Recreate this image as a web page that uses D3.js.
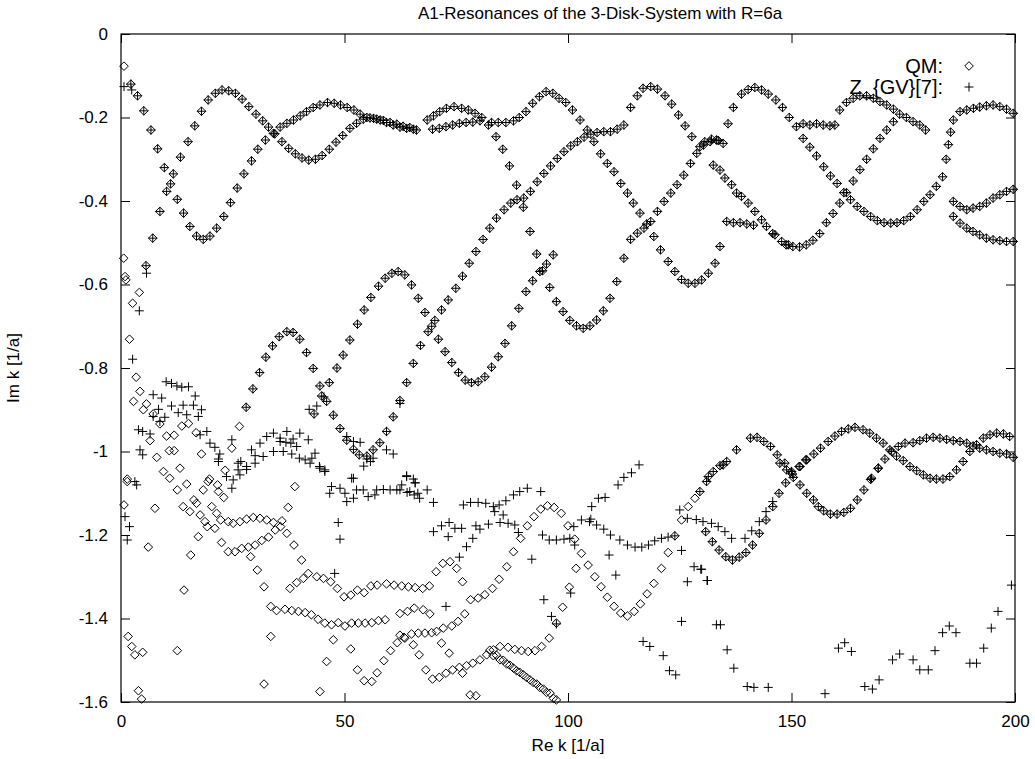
<!DOCTYPE html>
<html>
<head>
<meta charset="utf-8">
<script src="https://cdn.jsdelivr.net/npm/d3@7"></script>
<style>
  body { margin: 0; background: #fff; }
  text { font-family: "Liberation Sans", Arial, sans-serif; fill: #000; }
</style>
</head>
<body>
<svg id="chart" width="1035" height="759"></svg>
<script>
const title = "A1-Resonances of the 3-Disk-System with R=6a";
const xLabel = "Re k [1/a]";
const yLabel = "Im k [1/a]";
const xTicks = [0, 50, 100, 150, 200];
const yTicks = [0, -0.2, -0.4, -0.6, -0.8, -1, -1.2, -1.4, -1.6];
const legendNames = ["QM:", "Z_{GV}[7]:"];

// branches where QM and GV resonances coincide
const upperA = [[2.2,-0.12],[3.7,-0.148],[5.1,-0.184],[6.7,-0.23],[8.2,-0.275],[9.7,-0.32],[11.1,-0.359],[12.6,-0.396],[14.0,-0.429],[15.4,-0.461],[16.9,-0.484],[18.4,-0.492],[19.9,-0.484],[21.4,-0.465],[23.0,-0.437],[24.5,-0.404],[26.0,-0.369],[27.5,-0.335],[29.2,-0.304],[30.6,-0.276],[32.3,-0.254],[34.1,-0.238],[35.6,-0.223],[37.1,-0.214],[38.6,-0.206],[40.1,-0.196],[41.5,-0.186],[43.0,-0.176],[44.5,-0.17],[46.2,-0.164],[47.7,-0.166],[49.1,-0.17],[50.6,-0.176],[52.1,-0.182],[53.5,-0.192],[55.0,-0.2],[56.5,-0.202],[58.0,-0.206],[59.4,-0.212],[60.9,-0.218],[62.4,-0.223],[63.9,-0.226],[65.4,-0.228]];
const upperB = [[5.6,-0.555],[7.1,-0.489],[8.7,-0.425],[10.2,-0.377],[11.7,-0.335],[13.3,-0.295],[15.0,-0.258],[16.5,-0.22],[18.0,-0.185],[19.5,-0.158],[21.1,-0.142],[22.6,-0.134],[24.1,-0.136],[25.6,-0.142],[27.1,-0.156],[28.6,-0.174],[30.2,-0.192],[31.7,-0.208],[33.0,-0.223],[34.4,-0.239],[36.0,-0.258],[37.5,-0.274],[39.0,-0.287],[40.5,-0.297],[42.0,-0.302],[43.5,-0.3],[45.0,-0.291],[46.6,-0.276],[48.1,-0.259],[49.6,-0.243],[51.2,-0.226],[52.7,-0.214],[54.2,-0.204],[55.7,-0.201],[57.2,-0.204],[58.7,-0.207],[60.2,-0.212],[61.7,-0.216],[63.1,-0.221],[64.6,-0.224],[66.1,-0.23]];
const upperC = [[68.5,-0.206],[69.9,-0.196],[71.3,-0.186],[72.8,-0.178],[74.5,-0.174],[76.2,-0.178],[77.7,-0.182],[79.2,-0.19],[80.7,-0.2],[82.2,-0.218],[83.9,-0.246],[85.4,-0.276],[86.9,-0.316],[88.5,-0.362],[90.0,-0.415],[91.5,-0.473],[93.0,-0.527],[94.3,-0.567],[95.9,-0.607],[97.4,-0.641],[98.9,-0.665],[100.4,-0.686],[101.9,-0.699],[103.4,-0.705],[104.9,-0.699],[106.4,-0.685],[107.9,-0.663],[109.4,-0.633],[110.9,-0.593],[112.5,-0.537]];
const upperD = [[69.7,-0.228],[71.2,-0.226],[72.7,-0.222],[74.2,-0.218],[75.7,-0.214],[77.2,-0.212],[78.7,-0.211],[80.3,-0.208],[82.9,-0.212],[84.4,-0.212],[86.1,-0.212],[87.8,-0.208],[89.1,-0.2],[90.6,-0.186],[92.1,-0.166],[93.6,-0.15],[95.1,-0.138],[96.6,-0.142],[98.0,-0.154],[99.5,-0.164],[101.0,-0.182],[102.7,-0.206],[104.3,-0.23],[105.8,-0.258],[107.3,-0.287],[108.8,-0.31],[110.3,-0.33],[111.8,-0.358],[113.3,-0.381],[114.6,-0.405],[116.1,-0.429],[117.6,-0.455],[119.2,-0.485],[120.7,-0.517],[122.4,-0.545],[123.9,-0.569],[125.4,-0.588],[126.9,-0.597],[128.4,-0.597],[129.9,-0.589],[131.4,-0.573],[132.9,-0.549],[134.0,-0.509]];
const upperE = [[76.4,-0.58],[77.9,-0.549],[79.4,-0.521],[81.0,-0.492],[82.5,-0.465],[84.0,-0.441],[85.7,-0.421],[87.2,-0.405],[88.6,-0.397],[90.1,-0.393],[91.6,-0.377],[93.1,-0.354],[94.6,-0.334],[96.1,-0.316],[97.6,-0.298],[99.1,-0.282],[100.6,-0.268],[102.1,-0.258],[103.6,-0.247],[105.1,-0.24],[106.5,-0.236],[108.0,-0.234],[109.5,-0.234],[111.0,-0.228],[112.5,-0.218],[114.0,-0.176],[115.5,-0.148],[116.8,-0.13],[118.5,-0.126],[120.0,-0.132],[121.7,-0.148],[123.2,-0.168],[124.7,-0.194],[126.2,-0.22],[127.7,-0.246],[129.5,-0.27],[130.6,-0.258],[132.1,-0.252],[133.6,-0.255],[134.7,-0.262]];
const upperJ = [[114.0,-0.492],[115.5,-0.477],[117.0,-0.465],[118.5,-0.449],[120.0,-0.425],[121.5,-0.401],[123.0,-0.381],[124.4,-0.361],[125.9,-0.338],[127.4,-0.31],[128.8,-0.286],[130.3,-0.266],[131.8,-0.258],[133.2,-0.254]];
const upperM = [[132.5,-0.314],[134.0,-0.326],[135.1,-0.345],[136.6,-0.361],[137.7,-0.381],[138.8,-0.389],[140.3,-0.405],[141.8,-0.425],[143.3,-0.445],[146.3,-0.481],[147.8,-0.497],[149.3,-0.505]];
const upperF = [[135.8,-0.215],[137.0,-0.176],[138.8,-0.144],[140.3,-0.133],[141.8,-0.128],[143.3,-0.134],[144.8,-0.144],[146.5,-0.158],[148.0,-0.176],[149.5,-0.2],[151.1,-0.222],[152.6,-0.215],[154.1,-0.218],[155.6,-0.215],[157.1,-0.218],[158.6,-0.22],[159.7,-0.218]];
const upperG = [[152.6,-0.25],[154.1,-0.271],[155.6,-0.292],[157.2,-0.318],[158.7,-0.34],[160.2,-0.358],[161.7,-0.38],[163.2,-0.397],[164.7,-0.413],[166.2,-0.425],[167.7,-0.437],[169.2,-0.447],[170.7,-0.452],[172.2,-0.453],[173.6,-0.452],[175.1,-0.447],[176.6,-0.437],[178.1,-0.421],[179.6,-0.401],[181.0,-0.385],[182.4,-0.365],[183.8,-0.342],[184.6,-0.3],[185.1,-0.265],[185.6,-0.235]];
const upperH = [[135.5,-0.449],[137.0,-0.452],[138.5,-0.452],[140.0,-0.455],[141.5,-0.458],[144.4,-0.461],[145.8,-0.478],[148.8,-0.505],[150.3,-0.509],[151.8,-0.51],[153.3,-0.505],[154.8,-0.494],[156.3,-0.478],[157.8,-0.452],[159.3,-0.43],[160.8,-0.405],[162.3,-0.38],[163.8,-0.352],[165.3,-0.325],[166.8,-0.3],[168.3,-0.275],[169.8,-0.25],[171.3,-0.23],[172.8,-0.21]];
const upperN = [[160.8,-0.182],[162.3,-0.164],[163.8,-0.154],[165.3,-0.148],[166.8,-0.148],[168.3,-0.154],[169.8,-0.162],[171.3,-0.17],[172.8,-0.18],[174.2,-0.192],[175.7,-0.2],[177.2,-0.21],[178.7,-0.218],[180.0,-0.23]];
const upperI = [[186.2,-0.206],[187.7,-0.186],[189.2,-0.182],[190.7,-0.178],[192.1,-0.175],[193.6,-0.172],[195.1,-0.17],[196.6,-0.174],[198.1,-0.18],[199.6,-0.19]];
const upperK = [[186.2,-0.401],[187.7,-0.413],[189.2,-0.421],[190.6,-0.417],[192.1,-0.413],[193.6,-0.405],[195.1,-0.393],[196.6,-0.385],[198.1,-0.377],[199.6,-0.372]];
const upperL = [[186.2,-0.437],[187.7,-0.453],[189.2,-0.465],[190.6,-0.473],[192.1,-0.481],[193.6,-0.489],[195.1,-0.493],[196.6,-0.495],[198.1,-0.497],[199.6,-0.497]];
const peakL = [[28.0,-0.894],[29.5,-0.85],[31.0,-0.811],[32.4,-0.774],[33.9,-0.747],[35.4,-0.725],[37.1,-0.713],[38.5,-0.715],[40.0,-0.731],[41.5,-0.763],[43.0,-0.801],[44.5,-0.843],[46.0,-0.88],[47.5,-0.913],[49.0,-0.945],[50.5,-0.973],[52.0,-0.995],[53.3,-1.008],[55.0,-1.011],[56.4,-0.996],[57.9,-0.979],[59.4,-0.952],[60.9,-0.917],[62.4,-0.878],[63.9,-0.835],[65.4,-0.789],[67.0,-0.746],[68.7,-0.713],[70.2,-0.686],[71.7,-0.661],[73.2,-0.637],[74.9,-0.609]];
const peakM = [[43.2,-0.91],[44.9,-0.867],[46.6,-0.835],[48.3,-0.8],[49.7,-0.769],[51.2,-0.733],[52.9,-0.695],[54.4,-0.661],[55.9,-0.631],[57.6,-0.604],[59.1,-0.585],[60.6,-0.573],[62.0,-0.569],[63.5,-0.577],[65.0,-0.601],[66.5,-0.633],[68.0,-0.667],[69.5,-0.7],[71.0,-0.731],[72.5,-0.761],[74.0,-0.787],[75.5,-0.811],[77.0,-0.829],[78.4,-0.835],[79.9,-0.833],[81.4,-0.821],[82.9,-0.798],[84.4,-0.773],[85.9,-0.741],[87.4,-0.699],[89.0,-0.657],[90.6,-0.617],[92.1,-0.591],[93.7,-0.569],[95.2,-0.551],[96.7,-0.529]];
const lowRight1 = [[131.4,-1.06],[134.7,-1.032],[137.7,-0.996],[140.8,-0.968],[142.3,-0.966],[143.8,-0.976],[145.3,-0.988],[146.8,-1.008],[148.5,-1.028],[150.0,-1.048],[151.9,-1.036],[153.4,-1.02],[155.0,-1.006],[156.5,-0.992],[158.2,-0.976],[159.7,-0.963],[161.2,-0.952],[162.7,-0.946],[164.2,-0.942],[166.0,-0.948],[167.5,-0.956],[169.0,-0.968],[170.5,-0.98],[172.0,-0.996],[173.5,-1.011],[175.0,-1.022],[176.5,-1.036],[178.0,-1.046],[179.5,-1.056],[181.0,-1.064],[182.4,-1.066],[183.9,-1.066],[185.4,-1.06],[186.9,-1.044],[188.4,-1.024],[189.9,-1.0],[191.4,-0.984],[192.9,-0.968],[194.4,-0.96],[195.9,-0.956],[197.4,-0.958],[198.8,-0.964]];
const lowRight2 = [[167.9,-1.064],[169.4,-1.04],[170.9,-1.018],[172.4,-1.0],[173.9,-0.988],[175.4,-0.98],[177.2,-0.979],[178.7,-0.974],[180.2,-0.968],[181.7,-0.966],[183.2,-0.968],[184.7,-0.971],[186.2,-0.974],[187.7,-0.976],[189.2,-0.98],[190.6,-0.987],[192.1,-0.992],[193.6,-0.996],[195.1,-1.0],[196.6,-1.004],[198.1,-1.006],[199.6,-1.014]];
const lowRight3 = [[130.8,-1.192],[132.3,-1.216],[133.8,-1.236],[135.3,-1.252],[136.8,-1.26],[138.3,-1.253],[139.8,-1.242],[141.3,-1.224],[142.8,-1.196],[144.3,-1.164],[145.8,-1.132],[147.2,-1.1],[148.7,-1.075],[150.2,-1.054],[151.7,-1.036],[153.2,-1.02]];
const lowRight4 = [[147.4,-1.028],[148.9,-1.044],[150.4,-1.062],[151.9,-1.08],[153.4,-1.1],[154.9,-1.116],[156.0,-1.132],[157.2,-1.142],[158.7,-1.15],[160.2,-1.15],[161.7,-1.146],[163.2,-1.136],[164.7,-1.116],[166.2,-1.092],[167.7,-1.067],[169.4,-1.04]];
const lowRight5 = [[129.5,-1.096],[131.0,-1.072],[132.5,-1.048],[134.0,-1.034],[135.5,-1.024]];

// diamonds without a matching cross
const qmOnly = [[0.67,-0.077],[0.6,-0.537],[0.9,-0.581],[1.1,-0.589],[4.1,-0.619],[2.6,-0.645],[1.9,-0.731],[3.4,-0.822],[4.25,-0.856],[2.8,-0.88],[5.0,-0.9],[5.7,-0.886],[7.2,-0.91],[8.7,-0.934],[6.5,-0.974],[8.0,-1.014],[10.2,-0.963],[11.9,-0.961],[13.6,-0.939],[15.1,-0.933],[16.8,-0.955],[10.8,-0.998],[11.9,-0.998],[18.0,-1.006],[13.2,-1.04],[9.5,-1.048],[10.9,-1.064],[1.4,-1.066],[19.8,-1.066],[23.3,-1.045],[24.8,-0.992],[26.5,-0.94],
  [1.4,-1.072],[0.67,-1.128],[7.6,-1.136],[6.1,-1.229],[12.6,-1.092],[14.7,-1.078],[13.9,-1.132],[15.4,-1.144],[16.3,-1.116],[16.9,-1.124],[17.7,-1.152],[18.8,-1.168],[19.3,-1.18],[21.0,-1.184],[20.3,-1.132],[21.4,-1.148],[18.4,-1.092],[19.5,-1.072],[21.6,-1.08],[21.8,-1.096],[23.0,-1.11],[17.3,-1.204],[15.6,-1.248],[14.1,-1.332],
  [22.3,-1.164],[24.0,-1.168],[25.1,-1.172],[26.6,-1.168],[28.1,-1.162],[29.6,-1.158],[31.1,-1.16],[32.6,-1.164],[34.1,-1.17],[36.0,-1.166],
  [22.5,-1.218],[24.0,-1.24],[25.5,-1.24],[27.0,-1.232],[28.5,-1.229],[30.0,-1.224],[31.5,-1.213],[33.0,-1.205],[34.5,-1.188],[35.7,-1.18],[37.1,-1.196],
  [29.0,-1.252],[30.5,-1.284],[32.0,-1.324],[33.5,-1.371],[34.8,-1.381],[37.4,-1.134],[38.9,-1.084],[38.7,-1.224],[40.4,-1.26],
  [36.7,-1.378],[38.2,-1.381],[39.7,-1.383],[41.2,-1.386],[42.6,-1.391],[44.1,-1.402],[45.6,-1.411],[47.1,-1.415],[48.6,-1.41],[50.1,-1.418],[51.6,-1.411],[53.1,-1.411],[54.6,-1.411],[56.1,-1.41],[57.6,-1.405],[59.1,-1.403],
  [37.8,-1.328],[39.3,-1.314],[40.8,-1.304],[41.9,-1.292],[43.8,-1.3],[45.3,-1.304],[46.9,-1.312],[48.4,-1.328],[49.9,-1.348],[51.4,-1.344],[52.9,-1.332],[54.4,-1.338],[55.9,-1.322],[57.3,-1.32],[59.4,-1.317],[61.1,-1.32],[62.8,-1.322],[64.3,-1.324],[65.8,-1.326],[67.5,-1.328],[69.0,-1.322],
  [62.4,-1.388],[64.1,-1.383],[65.6,-1.375],[67.6,-1.379],[69.1,-1.389],[62.4,-1.44],[63.5,-1.447],[65.0,-1.437],[66.5,-1.435],[68.0,-1.435],[69.5,-1.434],
  [70.5,-1.288],[72.0,-1.268],[73.6,-1.264],[75.1,-1.28],[76.4,-1.312],
  [1.6,-1.443],[2.4,-1.467],[3.1,-1.487],[4.85,-1.481],[12.6,-1.477],[3.9,-1.573],[4.6,-1.593],[32.0,-1.557],[33.5,-1.443],[44.5,-1.575],[46.0,-1.503],[47.5,-1.451],[51.4,-1.473],[52.9,-1.523],[54.4,-1.549],[56.1,-1.551],[57.3,-1.53],[58.8,-1.501],[60.3,-1.477],[61.8,-1.458],[63.3,-1.445],[65.4,-1.463],[66.7,-1.487],[71.7,-1.459],[73.4,-1.483],[78.1,-1.583],[79.4,-1.585],
  [70.6,-1.431],[72.1,-1.423],[74.0,-1.418],[75.4,-1.407],[76.9,-1.389],[78.2,-1.355],[79.9,-1.351],[81.4,-1.343],[83.1,-1.328],[84.6,-1.306],[86.3,-1.276],[87.8,-1.24],[89.4,-1.208],[90.9,-1.178],[92.4,-1.156],[93.9,-1.138],[95.4,-1.13],[96.9,-1.134],[98.5,-1.148],[100.0,-1.178],[101.5,-1.21],[103.0,-1.244],[104.5,-1.272],[106.0,-1.3],[107.4,-1.324],[108.8,-1.349],[110.3,-1.371],[111.8,-1.387],[113.3,-1.394],[114.8,-1.383],[116.2,-1.365],[117.7,-1.341],[119.2,-1.316],[120.9,-1.28],[122.4,-1.242],[123.9,-1.202],[125.4,-1.164],[126.9,-1.132],[128.4,-1.112],
  [68.2,-1.523],[69.7,-1.545],[71.2,-1.541],[72.7,-1.531],[74.2,-1.523],[75.7,-1.517],[76.4,-1.531],[77.3,-1.513],[78.7,-1.507],[80.3,-1.499],[81.8,-1.487],[83.3,-1.475],[84.8,-1.467],[86.6,-1.469],[88.1,-1.474],[89.6,-1.477],[91.1,-1.479],[92.6,-1.477],[94.1,-1.467],[95.8,-1.447],[97.4,-1.411],[98.8,-1.373],[100.3,-1.325],[101.8,-1.28],
  [83.3,-1.489],[84.8,-1.499],[86.3,-1.509],[87.8,-1.519],[89.2,-1.529],[90.7,-1.541],[92.2,-1.553],[93.7,-1.565],[95.2,-1.577],[96.7,-1.591],
  [82.5,-1.476],[84.0,-1.488],[85.5,-1.5],[87.0,-1.512],[88.5,-1.525],[90.0,-1.535],[91.5,-1.547],[93.0,-1.557],[94.5,-1.569],[96.0,-1.579],[97.4,-1.595]];

// crosses without a matching diamond
const gvOnly = [[0.67,-0.126],[2.4,-0.134],[5.7,-0.573],[4.1,-0.663],[2.6,-0.779],
  [10.1,-0.833],[11.3,-0.837],[12.5,-0.843],[13.6,-0.846],[15.1,-0.845],[16.6,-0.867],[7.2,-0.864],[9.1,-0.872],[11.3,-0.891],[13.9,-0.889],[16.2,-0.889],[18.0,-0.9],[8.4,-0.899],[7.2,-0.916],[8.7,-0.928],[9.8,-0.918],[12.8,-0.907],[14.7,-0.912],[17.3,-0.916],[3.9,-0.948],[4.85,-0.952],[6.5,-0.958],[19.2,-0.952],[17.7,-0.96],[19.9,-0.98],[21.0,-0.99],[22.1,-1.006],[21.8,-1.018],[4.25,-0.996],[4.85,-1.008],[24.8,-0.972],[26.8,-1.024],[28.1,-1.036],[26.2,-1.044],[29.2,-0.996],[30.0,-1.01],[31.1,-0.98],[32.6,-0.964],[34.1,-0.956],[35.6,-0.968],[37.1,-0.952],[38.5,-0.97],[40.0,-0.956],[41.9,-0.972],[34.1,-1.0],[36.3,-1.0],[38.2,-1.006],[39.9,-1.016],[41.2,-1.02],[42.7,-1.016],[43.4,-1.004],[42.3,-1.028],[44.4,-1.036],[45.6,-1.044],[31.8,-1.012],[35.6,-0.976],[36.9,-0.978],[38.0,-0.98],[39.3,-0.988],[42.1,-0.899],[43.8,-0.891],[45.4,-0.869],[50.5,-0.964],[52.0,-0.976],[53.5,-0.978],[55.0,-1.018],[56.4,-1.016],[59.4,-0.996],[60.9,-1.006],[62.4,-0.885],[63.9,-1.058],[65.4,-1.066],[52.0,-1.064],
  [3.1,-1.072],[3.5,-1.08],[0.9,-1.156],[1.9,-1.18],[1.4,-1.212],[21.8,-1.024],[26.2,-1.028],[28.1,-1.043],[25.1,-1.068],[23.6,-1.06],[24.8,-1.088],[26.6,-1.056],[30.0,-1.028],[44.5,-1.04],[45.6,-1.048],[51.6,-1.064],[47.1,-1.084],[46.7,-1.1],[49.0,-1.088],[50.1,-1.1],[50.5,-1.12],[52.0,-1.112],[52.7,-1.092],[54.2,-1.092],[55.3,-1.108],[56.8,-1.104],[57.2,-1.092],[58.7,-1.091],[60.2,-1.092],[61.7,-1.092],[62.8,-1.08],[63.9,-1.06],[64.6,-1.096],[65.8,-1.075],[66.4,-1.1],[48.6,-1.17],[49.0,-1.21],[47.8,-1.292],[54.3,-1.035],[55.8,-1.024],
  [65.8,-1.075],[62.4,-1.092],[64.0,-1.098],[65.6,-1.104],[66.8,-1.112],[68.5,-1.092],[69.9,-1.122],[76.6,-1.128],[78.2,-1.122],[79.9,-1.122],[81.6,-1.124],[83.3,-1.132],[84.6,-1.128],[86.1,-1.118],[87.8,-1.104],[89.2,-1.096],[90.9,-1.088],[93.9,-1.096],[83.6,-1.144],[85.5,-1.152],[84.8,-1.17],[86.6,-1.172],[88.1,-1.176],[88.9,-1.194],[69.9,-1.192],[71.7,-1.178],[73.4,-1.17],[74.7,-1.184],[76.2,-1.184],[79.4,-1.178],[80.3,-1.186],[82.2,-1.174],[73.2,-1.204],[77.3,-1.228],[78.7,-1.208],[75.7,-1.253],[91.9,-1.258],[72.7,-1.371],[94.6,-1.355],[96.3,-1.395],[97.4,-1.413],[100.6,-1.339],
  [94.3,-1.2],[95.8,-1.212],[97.4,-1.212],[99.1,-1.21],[100.4,-1.208],[101.5,-1.224],[103.0,-1.164],[104.8,-1.168],[106.4,-1.176],[108.0,-1.186],[109.5,-1.2],[111.6,-1.212],[113.3,-1.224],[115.0,-1.229],[116.5,-1.229],[118.0,-1.224],[119.4,-1.214],[120.9,-1.208],[122.4,-1.205],[123.9,-1.202],[101.3,-1.18],[105.1,-1.162],[106.8,-1.112],[108.3,-1.11],[105.3,-1.132],[111.2,-1.08],[112.5,-1.062],[114.2,-1.051],[115.9,-1.032],[109.2,-1.248],[110.7,-1.296],[125.4,-1.237],[128.2,-1.276],[129.7,-1.282],[126.7,-1.312],[131.2,-1.309],[125.4,-1.407],[116.8,-1.455],[118.3,-1.467],[121.3,-1.489],[122.7,-1.525],[124.1,-1.535],[133.2,-1.415],
  [125.0,-1.14],[126.7,-1.16],[128.7,-1.163],[130.2,-1.168],[132.1,-1.172],[133.6,-1.18],[135.1,-1.192],[136.6,-1.208],[139.6,-1.208],[141.1,-1.19],[142.8,-1.168],[144.3,-1.144],[145.8,-1.12],
  [129.9,-1.282],[131.1,-1.309],[134.1,-1.415],[135.6,-1.475],[137.1,-1.519],[140.1,-1.563],[141.6,-1.565],[144.8,-1.565],[157.5,-1.58],[160.5,-1.471],[161.9,-1.458],[163.4,-1.479],[166.4,-1.563],[168.1,-1.569],[169.6,-1.547],[172.6,-1.499],[174.2,-1.485],[177.2,-1.499],[178.7,-1.523],[180.6,-1.523],[182.1,-1.477],[183.8,-1.434],[185.3,-1.418],[186.8,-1.434],[189.9,-1.507],[191.4,-1.507],[193.0,-1.471],[194.7,-1.423],[196.2,-1.383],[199.2,-1.32]];

const shared = [].concat(upperA, upperB, upperC, upperD, upperE, upperJ, upperM, upperF, upperG, upperH, upperN, upperI, upperK, upperL,
  peakL, peakM, lowRight1, lowRight2, lowRight3, lowRight4, lowRight5);
const qmPoints = shared.concat(qmOnly);
const gvPoints = shared.concat(gvOnly);

const W = 1035, H = 759;
const margin = { top: 34, right: 20, bottom: 57, left: 121 };
const width = W - margin.left - margin.right;
const height = H - margin.top - margin.bottom;

const svg = d3.select("#chart");
svg.append("rect").attr("width", W).attr("height", H).attr("fill", "#fff");

const g = svg.append("g").attr("transform", "translate(" + margin.left + "," + margin.top + ")");

const x = d3.scaleLinear().domain([0, 200]).range([0, width]);
const y = d3.scaleLinear().domain([-1.6, 0]).range([height, 0]);

const fmt = function(d){ return String(d); };
const tick = 9;

g.append("g").attr("transform", "translate(0," + height + ")")
  .call(d3.axisBottom(x).tickValues(xTicks).tickFormat(fmt).tickSizeInner(-tick).tickSizeOuter(0).tickPadding(13));
g.append("g")
  .call(d3.axisTop(x).tickValues(xTicks).tickFormat("").tickSizeInner(-tick).tickSizeOuter(0));
g.append("g")
  .call(d3.axisLeft(y).tickValues(yTicks).tickFormat(fmt).tickSizeInner(-tick).tickSizeOuter(0).tickPadding(13));
g.append("g").attr("transform", "translate(" + width + ",0)")
  .call(d3.axisRight(y).tickValues(yTicks).tickFormat("").tickSizeInner(-tick).tickSizeOuter(0));

g.selectAll(".domain").remove();
g.selectAll(".tick line").attr("stroke", "#000").attr("stroke-width", 1);
g.selectAll(".tick text").attr("font-size", 17).attr("fill", "#000")
  .style("font-family", "'Liberation Sans', Arial, sans-serif");

g.append("rect").attr("width", width).attr("height", height)
  .attr("fill", "none").attr("stroke", "#000").attr("stroke-width", 1.2);

const r = 4.3;
const diamond = "M0," + (-r) + "L" + r + ",0L0," + r + "L" + (-r) + ",0Z";
const cross = "M" + (-4.5) + ",0H4.5M0,-4.5V4.5";

g.append("g").selectAll("path").data(qmPoints).join("path")
  .attr("d", diamond)
  .attr("transform", function(d){ return "translate(" + x(d[0]) + "," + y(d[1]) + ")"; })
  .attr("fill", "none").attr("stroke", "#000").attr("stroke-width", 1);

g.append("g").selectAll("path").data(gvPoints).join("path")
  .attr("d", cross)
  .attr("transform", function(d){ return "translate(" + x(d[0]) + "," + y(d[1]) + ")"; })
  .attr("fill", "none").attr("stroke", "#000").attr("stroke-width", 1);

// title and axis labels
svg.append("text").attr("x", 600).attr("y", 19)
  .attr("text-anchor", "middle").attr("font-size", 17).text(title);
svg.append("text").attr("x", margin.left + width / 2).attr("y", 751)
  .attr("text-anchor", "middle").attr("font-size", 17).text(xLabel);
svg.append("text").attr("transform", "translate(19," + (margin.top + height / 2) + ") rotate(-90)")
  .attr("text-anchor", "middle").attr("font-size", 17).text(yLabel);

// legend
const legend = svg.append("g");
legendNames.forEach(function(name, i){
  const ly = 66 + i * 21;
  legend.append("text").attr("x", 943).attr("y", ly).attr("dy", "0.35em")
    .attr("text-anchor", "end").attr("font-size", 20).text(name);
  legend.append("path")
    .attr("d", i === 0 ? diamond : cross)
    .attr("transform", "translate(969," + ly + ")")
    .attr("fill", "none").attr("stroke", "#000").attr("stroke-width", 1);
});
</script>
</body>
</html>
